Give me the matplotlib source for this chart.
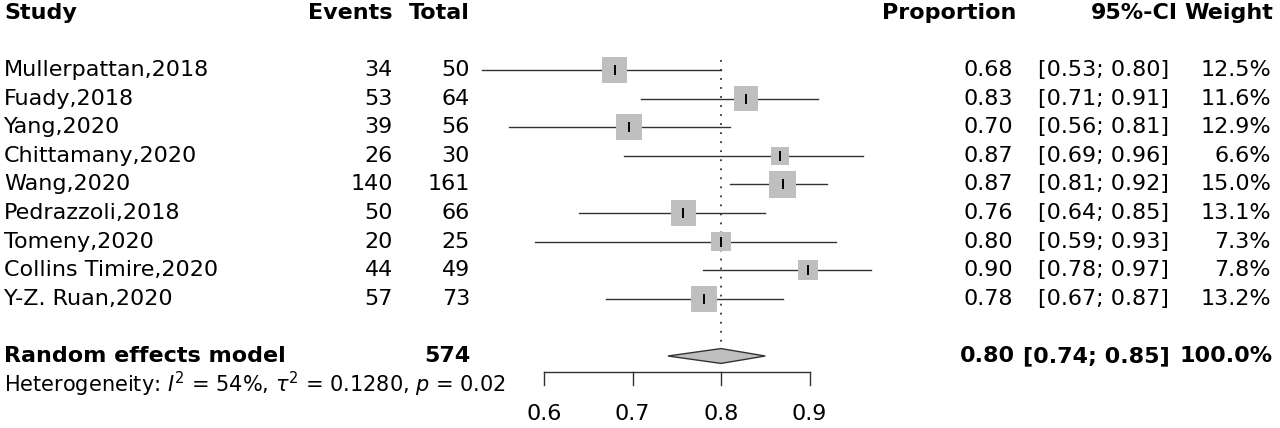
import matplotlib.pyplot as plt
import numpy as np

# data
studies = ['Mullerpattan,2018', 'Fuady,2018', 'Yang,2020', 'Chittamany,2020', 'Wang,2020',
           'Pedrazzoli,2018', 'Tomeny,2020', 'Collins Timire,2020', 'Y-Z. Ruan,2020']
events = [34, 53, 39, 26, 140, 50, 20, 44, 57]
totals = [50, 64, 56, 30, 161, 66, 25, 49, 73]
prop = [0.68, 0.83, 0.70, 0.87, 0.87, 0.76, 0.80, 0.90, 0.78]
lower = [0.53, 0.71, 0.56, 0.69, 0.81, 0.64, 0.59, 0.78, 0.67]
upper = [0.80, 0.91, 0.81, 0.96, 0.92, 0.85, 0.93, 0.97, 0.87]
weight = [12.5, 11.6, 12.9, 6.6, 15.0, 13.1, 7.3, 7.8, 13.2]
pooled = (0.80, 0.74, 0.85)
ticks = [0.6, 0.7, 0.8, 0.9]

plt.rcParams['font.family'] = 'DejaVu Sans'
fs = 16

fig = plt.figure(figsize=(12.8, 4.28), dpi=100)
ax = fig.add_axes([0, 0, 1, 1])
ax.set_xlim(0.6 - 544 / 885, 0.6 + (1280 - 544) / 885)
ax.set_ylim(358 / 28.6, -70 / 28.6)
ax.axis('off')

tr = ax.get_yaxis_transform()  # x in figure fraction, y in rows
def col(px):
    return px / 1280

# headers
hy = -2
ax.text(col(4), hy, 'Study', transform=tr, ha='left', va='center', fontsize=fs, fontweight='bold')
ax.text(col(393), hy, 'Events', transform=tr, ha='right', va='center', fontsize=fs, fontweight='bold')
ax.text(col(470), hy, 'Total', transform=tr, ha='right', va='center', fontsize=fs, fontweight='bold')
ax.text(col(1016), hy, 'Proportion', transform=tr, ha='right', va='center', fontsize=fs, fontweight='bold')
ax.text(col(1178), hy, '95%-CI', transform=tr, ha='right', va='center', fontsize=fs, fontweight='bold')
ax.text(col(1273), hy, 'Weight', transform=tr, ha='right', va='center', fontsize=fs, fontweight='bold')

rows = np.arange(len(studies))
est = np.array(events) / np.array(totals)

# confidence intervals, squares, point ticks
for i in rows:
    ax.plot([lower[i], upper[i]], [i, i], color='#333333', lw=1.0, zorder=2)
side_pt = 27.7 * np.sqrt(np.array(weight) / 15.0) * 0.72
ax.scatter(est, rows, s=side_pt ** 2, marker='s', color='#bfbfbf', edgecolors='none', zorder=3)
for i in rows:
    ax.plot([est[i], est[i]], [i - 0.14, i + 0.14], color='black', lw=1.4, zorder=4)

# study text
for i in rows:
    ax.text(col(4), i, studies[i], transform=tr, ha='left', va='center', fontsize=fs)
    ax.text(col(393), i, str(events[i]), transform=tr, ha='right', va='center', fontsize=fs)
    ax.text(col(470), i, str(totals[i]), transform=tr, ha='right', va='center', fontsize=fs)
    ax.text(col(1013), i, f'{prop[i]:.2f}', transform=tr, ha='right', va='center', fontsize=fs)
    ax.text(col(1169), i, f'[{lower[i]:.2f}; {upper[i]:.2f}]', transform=tr, ha='right', va='center', fontsize=fs)
    ax.text(col(1271), i, f'{weight[i]:.1f}%', transform=tr, ha='right', va='center', fontsize=fs)

# pooled
py = 10
ax.fill([pooled[1], pooled[0], pooled[2], pooled[0]], [py, py - 0.26, py, py + 0.26],
        facecolor='#bfbfbf', edgecolor='#333333', lw=1.0, zorder=3)
ax.plot([pooled[0], pooled[0]], [-0.35, py - 0.28], color='#333333', lw=1.3,
        linestyle=(0, (1, 4)), zorder=1)
ax.text(col(4), py, 'Random effects model', transform=tr, ha='left', va='center', fontsize=fs, fontweight='bold')
ax.text(col(470), py, str(sum(totals)), transform=tr, ha='right', va='center', fontsize=fs, fontweight='bold')
ax.text(col(1015), py, f'{pooled[0]:.2f}', transform=tr, ha='right', va='center', fontsize=fs, fontweight='bold')
ax.text(col(1170), py, f'[{pooled[1]:.2f}; {pooled[2]:.2f}]', transform=tr, ha='right', va='center', fontsize=fs, fontweight='bold')
ax.text(col(1273), py, '100.0%', transform=tr, ha='right', va='center', fontsize=fs, fontweight='bold')
ax.text(col(4), 11.0, r'Heterogeneity: $I^2$ = 54%, $\tau^2$ = 0.1280, $p$ = 0.02',
        transform=tr, ha='left', va='center', fontsize=15)

# x axis
ay = 10.56
ax.plot([ticks[0], ticks[-1]], [ay, ay], color='#333333', lw=1.0)
for t in ticks:
    ax.plot([t, t], [ay, 11.01], color='#333333', lw=1.0)
    ax.text(t, 12.03, f'{t:.1f}', ha='center', va='center', fontsize=fs)

fig.savefig('out.png', dpi=100)
